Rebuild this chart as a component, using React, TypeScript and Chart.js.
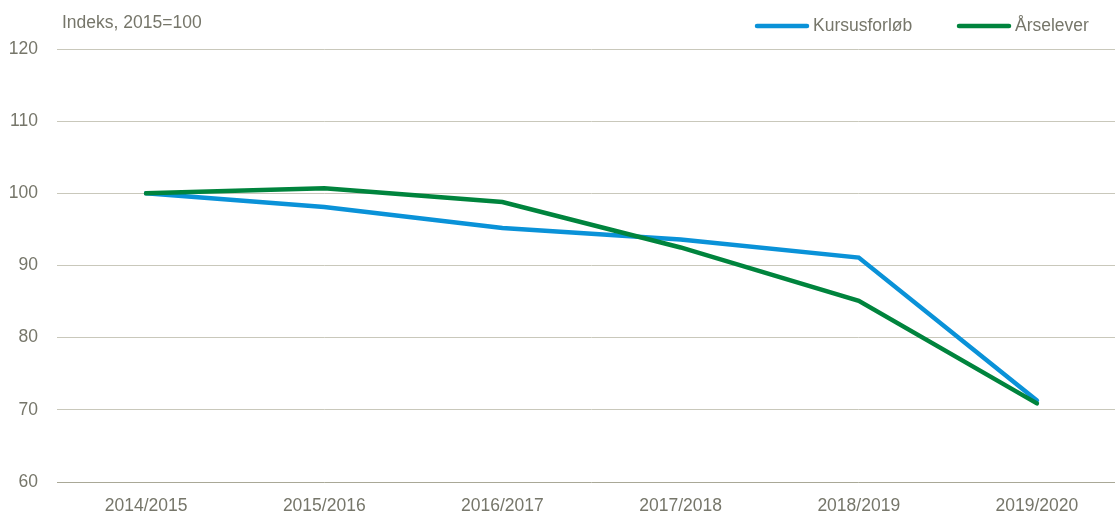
import React, { useEffect, useRef } from "react";
import { Chart, registerables } from "chart.js";

Chart.register(...registerables);

const categories = ["2014/2015", "2015/2016", "2016/2017", "2017/2018", "2018/2019", "2019/2020"];
const kursusforlob = [100, 98.1, 95.2, 93.6, 91.1, 71.3];
const arselever = [100, 100.7, 98.8, 92.5, 85.1, 70.9];
const seriesNames = ["Kursusforløb", "Årselever"];
const yTitle = "Indeks, 2015=100";

const FONT = "'Liberation Sans', Arial, sans-serif";
const FS = 17.5;
const TEXT = "#76766a";
const BLUE = "#0a92d8";
const GREEN = "#00843d";

const overlay = {
  id: "overlay",
  afterDraw(chart: any) {
    const ctx = chart.ctx;
    ctx.save();
    ctx.font = `${FS}px ${FONT}`;
    ctx.fillStyle = TEXT;
    ctx.textBaseline = "middle";
    ctx.textAlign = "left";
    ctx.fillText(yTitle, 62, 23);
    const items = [
      { x: 757, color: chart.data.datasets[0].borderColor, label: chart.data.datasets[0].label },
      { x: 959, color: chart.data.datasets[1].borderColor, label: chart.data.datasets[1].label },
    ];
    for (const it of items) {
      ctx.strokeStyle = it.color;
      ctx.lineWidth = 4.5;
      ctx.lineCap = "round";
      ctx.beginPath();
      ctx.moveTo(it.x, 26);
      ctx.lineTo(it.x + 50, 26);
      ctx.stroke();
      ctx.fillStyle = TEXT;
      ctx.fillText(it.label, it.x + 56, 26);
    }
    ctx.restore();
  },
};

export default function App() {
  const ref = useRef<HTMLCanvasElement | null>(null);
  useEffect(() => {
    if (!ref.current) return;
    const chart = new Chart(ref.current, {
      type: "line",
      data: {
        labels: categories,
        datasets: [
          {
            label: seriesNames[0],
            data: kursusforlob,
            borderColor: BLUE,
            backgroundColor: BLUE,
            borderWidth: 4.5,
            pointRadius: 0,
            tension: 0,
            order: 2,
            borderCapStyle: "round",
          },
          {
            label: seriesNames[1],
            data: arselever,
            borderColor: GREEN,
            backgroundColor: GREEN,
            borderWidth: 4.5,
            pointRadius: 0,
            tension: 0,
            order: 1,
            borderCapStyle: "round",
          },
        ],
      },
      options: {
        animation: false,
        responsive: false,
        maintainAspectRatio: false,
        layout: { padding: { top: 49, left: 0, right: 0, bottom: 0 } },
        plugins: { legend: { display: false }, tooltip: { enabled: false } },
        scales: {
          x: {
            offset: true,
            grid: { display: false, drawTicks: false },
            border: { display: false },
            ticks: { color: TEXT, font: { family: FONT, size: FS }, padding: 14, maxRotation: 0 },
            afterFit: (s: any) => {
              s.height = 33;
            },
          },
          y: {
            min: 60,
            max: 120,
            ticks: { stepSize: 10, color: TEXT, font: { family: FONT, size: FS }, padding: 19 },
            grid: {
              drawTicks: false,
              color: (c: any) => (c.tick && c.tick.value === 60 ? "#a9a897" : "#c9c8bb"),
              lineWidth: 1,
            },
            border: { display: false },
            afterFit: (s: any) => {
              s.width = 57;
            },
          },
        },
      },
      plugins: [overlay],
    });
    return () => chart.destroy();
  }, []);
  return (
    <div style={{ position: "fixed", left: 0, top: 0, width: 1115, height: 515, overflow: "hidden", background: "#fff" }}>
      <canvas ref={ref} width={1126} height={515} style={{ display: "block", width: 1126, height: 515 }} />
    </div>
  );
}
